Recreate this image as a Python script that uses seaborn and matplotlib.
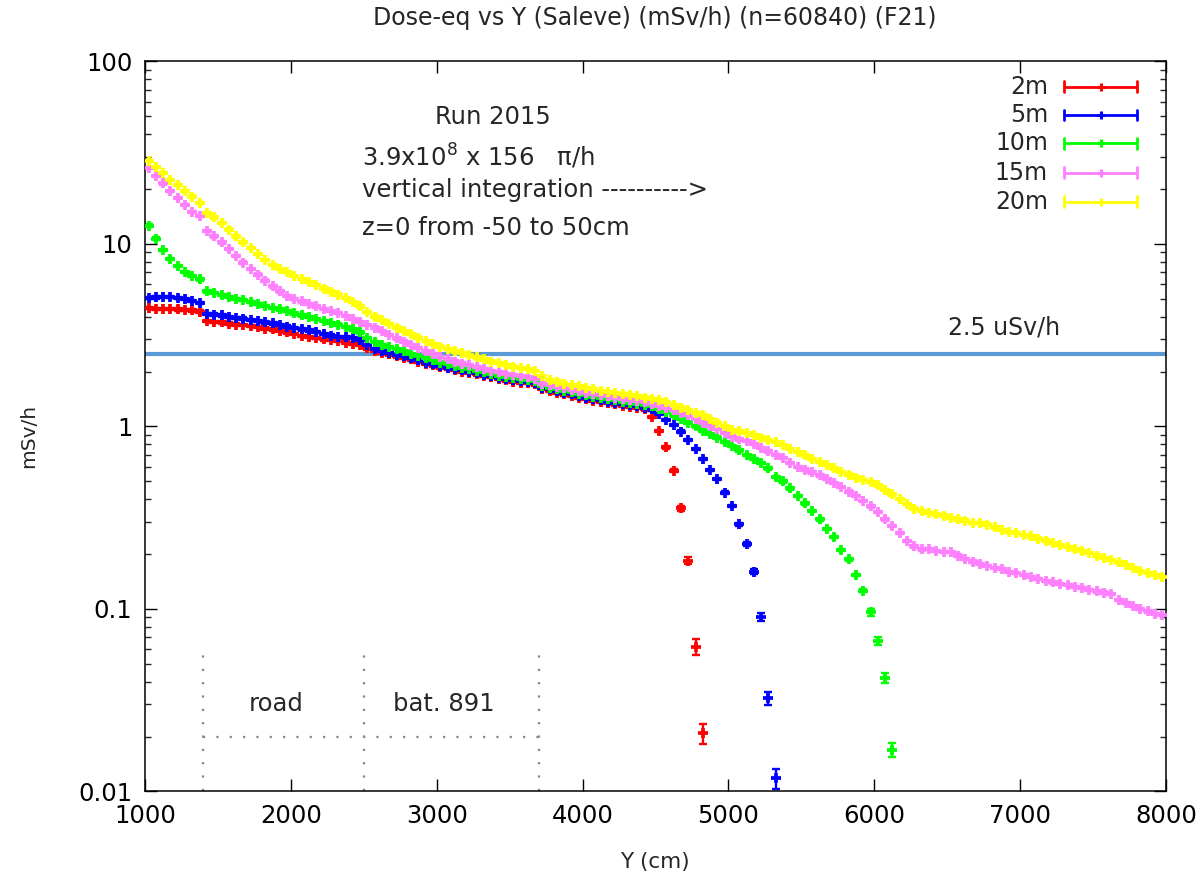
import numpy as np
import pandas as pd
import matplotlib
matplotlib.use("Agg")
import matplotlib.pyplot as plt
from matplotlib.ticker import FixedLocator, FixedFormatter, LogLocator, NullFormatter
import seaborn as sns

# Bin centres along Y (cm), 50 cm bins from 1000 to 8000
bin_centres = np.arange(1025, 8000, 50)

# Dose-equivalent rate (mSv/h) per distance; series end where they leave the axis range
dose_2m = [
    4.45, 4.42, 4.40, 4.41, 4.38, 4.36, 4.33, 4.26, 3.78, 3.74,
    3.72, 3.66, 3.62, 3.60, 3.55, 3.50, 3.44, 3.40, 3.33, 3.28,
    3.22, 3.14, 3.10, 3.06, 3.00, 2.97, 2.93, 2.88, 2.84, 2.80,
    2.68, 2.60, 2.54, 2.48, 2.42, 2.38, 2.33, 2.26, 2.20, 2.16,
    2.11, 2.08, 2.04, 2.00, 1.97, 1.93, 1.90, 1.86, 1.82, 1.79,
    1.76, 1.74, 1.73, 1.70, 1.60, 1.57, 1.53, 1.50, 1.47, 1.44,
    1.41, 1.38, 1.36, 1.34, 1.32, 1.30, 1.28, 1.27, 1.24, 1.13,
    0.948, 0.769, 0.573, 0.356, 0.184, 0.0621, 0.0208,
]
dose_5m = [
    5.05, 5.10, 5.14, 5.12, 5.06, 4.98, 4.88, 4.74, 4.15, 4.10,
    4.06, 3.98, 3.93, 3.90, 3.83, 3.78, 3.72, 3.67, 3.60, 3.53,
    3.46, 3.40, 3.36, 3.30, 3.22, 3.15, 3.10, 3.08, 3.05, 2.96,
    2.80, 2.66, 2.58, 2.52, 2.47, 2.42, 2.36, 2.30, 2.24, 2.19,
    2.14, 2.10, 2.06, 2.03, 1.99, 1.96, 1.92, 1.89, 1.85, 1.82,
    1.79, 1.77, 1.76, 1.73, 1.63, 1.60, 1.56, 1.53, 1.50, 1.47,
    1.44, 1.41, 1.39, 1.37, 1.35, 1.33, 1.31, 1.29, 1.27, 1.24,
    1.17, 1.086, 1.02, 0.937, 0.844, 0.750, 0.661, 0.578, 0.514, 0.434,
    0.367, 0.291, 0.227, 0.160, 0.0908, 0.0324, 0.0118,
]
dose_10m = [
    12.6, 10.7, 9.3, 8.3, 7.6, 7.0, 6.7, 6.4, 5.50, 5.38,
    5.25, 5.12, 5.00, 4.92, 4.82, 4.70, 4.58, 4.47, 4.38, 4.28,
    4.16, 4.06, 3.98, 3.88, 3.78, 3.70, 3.62, 3.50, 3.40, 3.28,
    3.06, 2.90, 2.80, 2.72, 2.65, 2.58, 2.50, 2.43, 2.36, 2.30,
    2.24, 2.19, 2.14, 2.10, 2.06, 2.02, 1.98, 1.94, 1.90, 1.87,
    1.84, 1.81, 1.80, 1.77, 1.67, 1.63, 1.60, 1.57, 1.54, 1.51,
    1.48, 1.45, 1.43, 1.41, 1.39, 1.37, 1.35, 1.33, 1.31, 1.29,
    1.25, 1.20, 1.15, 1.10, 1.05, 1.00, 0.95, 0.91, 0.87, 0.82,
    0.78, 0.74, 0.70, 0.665, 0.63, 0.59, 0.53, 0.50, 0.458, 0.416,
    0.379, 0.344, 0.310, 0.274, 0.249, 0.210, 0.187, 0.153, 0.126, 0.096,
    0.0668, 0.042, 0.0169,
]
dose_15m = [
    26.0, 23.5, 21.5, 19.5, 17.8, 16.3, 15.0, 14.2, 11.8, 11.0,
    10.2, 9.4, 8.6, 7.9, 7.3, 6.8, 6.3, 5.85, 5.5, 5.2,
    5.0, 4.85, 4.70, 4.55, 4.42, 4.30, 4.18, 4.02, 3.88, 3.74,
    3.60, 3.48, 3.33, 3.18, 3.04, 2.92, 2.80, 2.69, 2.58, 2.49,
    2.40, 2.33, 2.27, 2.21, 2.16, 2.11, 2.06, 2.02, 1.98, 1.94,
    1.91, 1.88, 1.86, 1.83, 1.72, 1.68, 1.65, 1.62, 1.59, 1.56,
    1.53, 1.50, 1.48, 1.46, 1.44, 1.42, 1.40, 1.38, 1.36, 1.33,
    1.30, 1.27, 1.23, 1.19, 1.15, 1.10, 1.05, 1.01, 0.97, 0.92,
    0.88, 0.85, 0.83, 0.80, 0.76, 0.73, 0.70, 0.67, 0.63, 0.60,
    0.58, 0.56, 0.54, 0.515, 0.49, 0.465, 0.44, 0.415, 0.39, 0.365,
    0.34, 0.31, 0.285, 0.26, 0.235, 0.22, 0.212, 0.213, 0.208, 0.205,
    0.206, 0.196, 0.188, 0.182, 0.176, 0.172, 0.168, 0.166, 0.160, 0.157,
    0.154, 0.150, 0.146, 0.142, 0.140, 0.137, 0.135, 0.132, 0.130, 0.127,
    0.125, 0.123, 0.121, 0.112, 0.108, 0.104, 0.100, 0.097, 0.094, 0.093,
]
dose_20m = [
    28.5, 26.5, 24.5, 22.5, 21.0, 19.5, 18.2, 16.8, 14.8, 14.0,
    13.0, 12.0, 11.0, 10.2, 9.5, 8.8, 8.2, 7.7, 7.3, 7.0,
    6.7, 6.45, 6.2, 5.95, 5.70, 5.48, 5.28, 5.05, 4.80, 4.55,
    4.25, 4.00, 3.82, 3.65, 3.48, 3.34, 3.20, 3.07, 2.95, 2.84,
    2.74, 2.65, 2.58, 2.52, 2.45, 2.39, 2.33, 2.27, 2.22, 2.17,
    2.13, 2.09, 2.06, 2.02, 1.88, 1.80, 1.76, 1.72, 1.69, 1.66,
    1.63, 1.60, 1.57, 1.55, 1.53, 1.50, 1.48, 1.46, 1.44, 1.42,
    1.39, 1.36, 1.31, 1.27, 1.23, 1.19, 1.15, 1.10, 1.05, 1.00,
    0.96, 0.94, 0.92, 0.895, 0.87, 0.845, 0.82, 0.79, 0.755, 0.725,
    0.695, 0.665, 0.64, 0.615, 0.59, 0.565, 0.545, 0.525, 0.51, 0.495,
    0.475, 0.45, 0.425, 0.40, 0.375, 0.355, 0.343, 0.335, 0.33, 0.325,
    0.315, 0.31, 0.305, 0.295, 0.295, 0.290, 0.28, 0.27, 0.265, 0.26,
    0.255, 0.25, 0.243, 0.237, 0.230, 0.225, 0.218, 0.212, 0.208, 0.203,
    0.196, 0.19, 0.186, 0.18, 0.174, 0.168, 0.162, 0.157, 0.153, 0.150,
]

# Statistical errors: explicit for the low-statistics tail bins, small relative error elsewhere
tail_err_2m = [0.012, 0.010, 0.008, 0.006, 0.0027]
tail_err_5m = [0.006, 0.005, 0.0045, 0.0027, 0.0015]
tail_err_10m = [0.004, 0.0035, 0.0028, 0.0015]
bulk_rel_err = 0.015

series_labels = ["2m", "5m", "10m", "15m", "20m"]
series_values = [dose_2m, dose_5m, dose_10m, dose_15m, dose_20m]
series_tail_err = [tail_err_2m, tail_err_5m, tail_err_10m, [], []]
series_colors = ["#ff0000", "#0000ff", "#00ff00", "#ff80ff", "#ffff00"]

limit_value = 2.5
limit_label = "2.5 uSv/h"
zone_edges = [1400, 2500, 3700]
zone_names = ["road", "bat. 891"]

x_ticks = [1000, 2000, 3000, 4000, 5000, 6000, 7000, 8000]
y_ticks = [0.01, 0.1, 1, 10, 100]
y_tick_labels = ["0.01", "0.1", "1", "10", "100"]

sns.set_theme(style="ticks")
plt.rcParams["font.family"] = ["DejaVu Sans"]
plt.rcParams["mathtext.fontset"] = "dejavusans"

frames = []
for lab, vals, tail in zip(series_labels, series_values, series_tail_err):
    v = np.asarray(vals, dtype=float)
    err = v * bulk_rel_err
    if len(tail):
        err[-len(tail):] = tail
    frames.append(pd.DataFrame({"Y": bin_centres[:len(v)], "dose": v, "err": err, "series": lab}))
df = pd.concat(frames, ignore_index=True)

fig = plt.figure(figsize=(12.04, 8.77), dpi=100)
ax = fig.add_axes([0.1204, 0.0975, 0.8480, 0.8324])

ax.axhline(limit_value, color="#5b9bd5", lw=3.0, zorder=1)

for lab, col in zip(series_labels, series_colors):
    d = df[df["series"] == lab]
    ax.errorbar(d["Y"], d["dose"], yerr=d["err"], fmt="none", ecolor=col,
                elinewidth=1.7, capsize=3.2, capthick=1.7, zorder=2)
    sns.scatterplot(data=d, x="Y", y="dose", color=col, marker="+", s=52,
                    linewidth=2.7, ax=ax, legend=False, zorder=3)

ax.set_yscale("log")
ax.set_xlim(1000, 8000)
ax.set_ylim(0.01, 100)
ax.xaxis.set_major_locator(FixedLocator(x_ticks))
ax.yaxis.set_major_locator(FixedLocator(y_ticks))
ax.yaxis.set_major_formatter(FixedFormatter(y_tick_labels))
ax.yaxis.set_minor_locator(LogLocator(base=10, subs=np.arange(2, 10)))
ax.yaxis.set_minor_formatter(NullFormatter())
ax.tick_params(axis="both", which="major", direction="in", length=8.5, width=1.0,
               top=True, right=True, labelsize=17.5, colors="black", pad=9)
ax.tick_params(axis="y", which="minor", direction="in", length=4.5, width=1.0,
               left=True, right=True)
ax.tick_params(axis="x", which="minor", bottom=False, top=False)
for sp in ax.spines.values():
    sp.set_linewidth(1.1)
    sp.set_color("black")
ax.set_xlabel("")
ax.set_ylabel("")

# Zone markers along the bottom
dot_style = dict(color="#888888", lw=1.6, ls=(0, (1, 5)), zorder=1)
for xe in zone_edges:
    ax.plot([xe, xe], [0.01, 0.06], **dot_style)
ax.plot([zone_edges[0], zone_edges[-1]], [0.02, 0.02], **dot_style)
ax.text(1900, 0.030, zone_names[0], ha="center", va="center", fontsize=17.5)
ax.text(3050, 0.030, zone_names[1], ha="center", va="center", fontsize=17.5)

ax.text(6890, 3.47, limit_label, ha="center", va="center", fontsize=17)

# Run description
ax.text(3386, 49.7, "Run 2015", ha="center", va="center", fontsize=17.5)
ax.text(2490, 30.0, "3.9x10$^{8}$ x 156   \u03c0/h", ha="left", va="center", fontsize=17.5)
ax.text(2490, 19.8, "vertical integration ---------->", ha="left", va="center", fontsize=17.5)
ax.text(2490, 12.2, "z=0 from -50 to 50cm", ha="left", va="center", fontsize=17.5)

# Key in the upper right
key_rows = [0.9655, 0.9267, 0.8879, 0.8477, 0.8079]
for lab, col, yk in zip(series_labels, series_colors, key_rows):
    ax.text(0.8844, yk, lab, ha="right", va="center", fontsize=17, transform=ax.transAxes)
    ax.plot([0.9001, 0.9716], [yk, yk], color=col, lw=2.0, transform=ax.transAxes,
            solid_capstyle="butt", clip_on=False)
    for xc in (0.9001, 0.9716):
        ax.plot([xc, xc], [yk - 0.0075, yk + 0.0075], color=col, lw=2.0,
                transform=ax.transAxes, clip_on=False)
    ax.plot([0.9359], [yk], marker="+", ms=6, mew=2.2, color=col, transform=ax.transAxes)

fig.text(655 / 1204, 1 - 18 / 877, "Dose-eq vs Y (Saleve) (mSv/h) (n=60840) (F21)",
         ha="center", va="center", fontsize=17)
fig.text(29 / 1204, 1 - 436 / 877, "mSv/h", rotation=90, ha="center", va="center", fontsize=14.5)
fig.text(655 / 1204, 1 - 862 / 877, "Y (cm)", ha="center", va="center", fontsize=15.5)

fig.savefig("out.png", dpi=100, facecolor="white")
